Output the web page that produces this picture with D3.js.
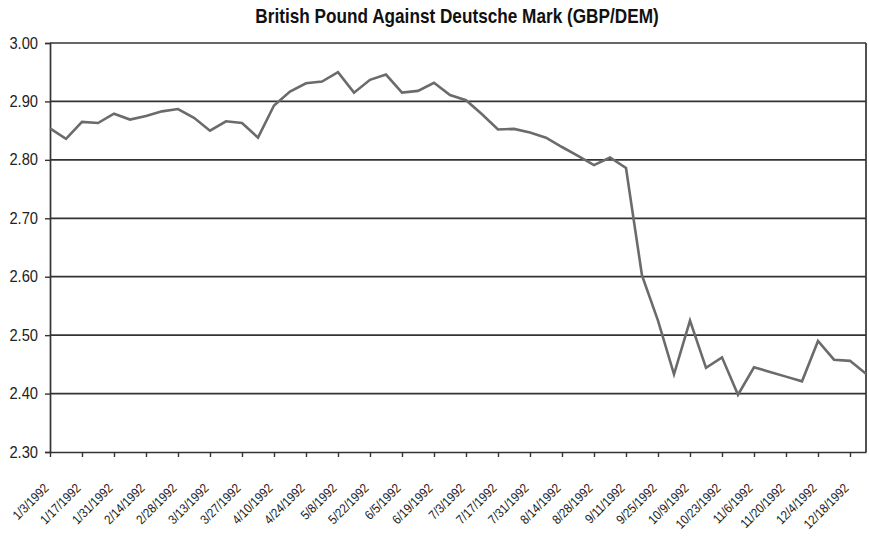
<!DOCTYPE html>
<html>
<head>
<meta charset="utf-8">
<script src="https://cdn.jsdelivr.net/npm/d3@7"></script>
<style>
  body { margin: 0; background: #fff; }
  svg { display: block; }
</style>
</head>
<body>
<svg id="chart" width="869" height="536"></svg>
<script>
// weekly fixings, 1992
const weeks = [
    "1/3/1992", "1/10/1992", "1/17/1992", "1/24/1992", "1/31/1992", "2/7/1992",
    "2/14/1992", "2/21/1992", "2/28/1992", "3/6/1992", "3/13/1992", "3/20/1992",
    "3/27/1992", "4/3/1992", "4/10/1992", "4/17/1992", "4/24/1992", "5/1/1992",
    "5/8/1992", "5/15/1992", "5/22/1992", "5/29/1992", "6/5/1992", "6/12/1992",
    "6/19/1992", "6/26/1992", "7/3/1992", "7/10/1992", "7/17/1992", "7/24/1992",
    "7/31/1992", "8/7/1992", "8/14/1992", "8/21/1992", "8/28/1992", "9/4/1992",
    "9/11/1992", "9/18/1992", "9/25/1992", "10/2/1992", "10/9/1992", "10/16/1992",
    "10/23/1992", "10/30/1992", "11/6/1992", "11/13/1992", "11/20/1992", "11/27/1992",
    "12/4/1992", "12/11/1992", "12/18/1992", "12/25/1992"
];
const gbpdem = [
    2.854, 2.836, 2.865, 2.863, 2.879, 2.869, 2.875, 2.883, 2.887, 2.872,
    2.850, 2.866, 2.863, 2.838, 2.893, 2.917, 2.931, 2.934, 2.950, 2.915,
    2.937, 2.946, 2.915, 2.918, 2.932, 2.911, 2.902, 2.878, 2.852, 2.853,
    2.847, 2.838, 2.822, 2.807, 2.791, 2.804, 2.786, 2.602, 2.525, 2.433,
    2.525, 2.444, 2.462, 2.398, 2.445, 2.437, 2.429, 2.421, 2.490, 2.458,
    2.456, 2.434
];
const yTicks = [2.30, 2.40, 2.50, 2.60, 2.70, 2.80, 2.90, 3.00];

const margin = {top: 43, right: 3, bottom: 84, left: 50},
    width = 869 - margin.left - margin.right,
    height = 536 - margin.top - margin.bottom;

const svg = d3.select("#chart");

// no condensed face installed, so squeeze the bold sans a bit
svg.append("text")
    .attr("transform", "translate(457, 23) scale(0.86, 1)")
    .attr("text-anchor", "middle")
    .style("font-family", "'Liberation Sans', Arial, sans-serif")
    .style("font-weight", "bold")
    .style("font-size", "20px")
    .style("fill", "#111")
    .text("British Pound Against Deutsche Mark (GBP/DEM)");

const g = svg.append("g")
    .attr("transform", `translate(${margin.left}, ${margin.top})`);

const x = d3.scalePoint()
    .domain(d3.range(weeks.length))
    .range([0, width]);

const y = d3.scaleLinear()
    .domain([2.3, 3.0])
    .range([height, 0]);

// horizontal gridlines
g.selectAll(".grid")
    .data(yTicks.slice(1))
    .enter()
    .append("line")
        .attr("x1", 0)
        .attr("x2", width)
        .attr("y1", d => y(d))
        .attr("y2", d => y(d))
        .attr("stroke", "#333")
        .attr("stroke-width", 1.7);

// right border
g.append("line")
    .attr("x1", width).attr("x2", width)
    .attr("y1", 0).attr("y2", height)
    .attr("stroke", "#333")
    .attr("stroke-width", 1.7);

// Y axis
const yAxis = g.append("g")
    .call(d3.axisLeft(y).tickValues(yTicks).tickFormat(d3.format(".2f")).tickSize(5).tickPadding(8));
yAxis.select(".domain").attr("stroke", "#333").attr("stroke-width", 1.7);
yAxis.selectAll(".tick line").attr("stroke", "#333").attr("stroke-width", 1.4);
yAxis.selectAll("text")
    .attr("transform", "scale(0.92, 1)")
    .style("font-family", "'Liberation Sans', Arial, sans-serif")
    .style("font-size", "16px")
    .style("fill", "#222");

// X axis, tick every second week
const shown = d3.range(0, weeks.length, 2);
const xAxis = g.append("g")
    .attr("transform", `translate(0, ${height})`)
    .call(d3.axisBottom(x).tickValues(shown).tickFormat(i => weeks[i]).tickSize(5).tickSizeOuter(0));
xAxis.select(".domain").attr("stroke", "#333").attr("stroke-width", 1.7);
xAxis.selectAll(".tick line").attr("stroke", "#333").attr("stroke-width", 1.4);
xAxis.selectAll("text")
    .attr("text-anchor", "end")
    .attr("dy", null)
    .attr("y", 0)
    .attr("transform", "translate(-1, 37) rotate(-45) scale(0.88, 1)")
    .style("font-family", "'Liberation Sans', Arial, sans-serif")
    .style("font-size", "13px")
    .style("fill", "#222");

// the rate line
const line = d3.line()
    .x((d, i) => x(i))
    .y(d => y(d));

g.append("path")
    .datum(gbpdem)
    .attr("fill", "none")
    .attr("stroke", "#6b6b6b")
    .attr("stroke-width", 2.6)
    .attr("stroke-linejoin", "miter")
    .attr("d", line);
</script>
</body>
</html>
